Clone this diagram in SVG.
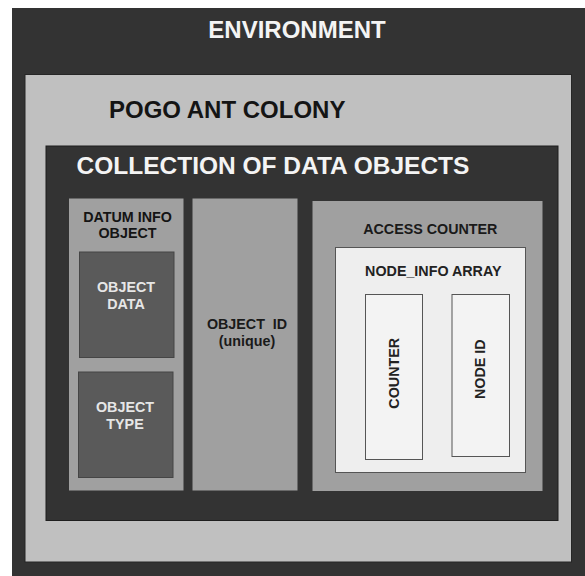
<svg xmlns="http://www.w3.org/2000/svg" width="585" height="576" viewBox="0 0 585 576">
  <style>
    text { font-family: "Liberation Sans", Arial, sans-serif; font-weight: bold; }
    .big { font-size: 24px; }
    .small { font-size: 14.3px; }
    .light { fill: #f4f4f4; }
    .dark { fill: #141414; }
    .mid { fill: #a0a0a0; }
    .slot { fill: #5a5a5a; stroke: #454545; stroke-width: 1; }
    .cell { fill: #f3f3f3; stroke: #555; stroke-width: 1; }
  </style>

  <rect x="0" y="0" width="585" height="576" fill="#ffffff"/>

  <!-- outermost container -->
  <g id="environment">
    <rect x="12" y="8" width="573" height="568" fill="#333333"/>
    <text class="big light" x="297" y="38" text-anchor="middle">ENVIRONMENT</text>
  </g>

  <g id="colony">
    <rect x="25" y="74.5" width="546.5" height="487.5" fill="#c0c0c0" stroke="#262626" stroke-width="1"/>
    <text class="big dark" x="109" y="118">POGO ANT COLONY</text>
  </g>

  <g id="collection">
    <rect x="46" y="146" width="512" height="374.5" fill="#333333" stroke="#1e1e1e" stroke-width="1"/>
    <text class="big light" x="76.5" y="174" style="font-size:24.5px">COLLECTION OF DATA OBJECTS</text>
  </g>

  <g id="datum-info">
    <rect class="mid" x="69" y="198.5" width="114.5" height="292"/>
    <text class="small dark" x="127.5" y="221.5" text-anchor="middle">DATUM INFO</text>
    <text class="small dark" x="127.5" y="237.5" text-anchor="middle">OBJECT</text>
  </g>

  <g id="object-data">
    <rect class="slot" x="79.5" y="252" width="94.5" height="105.5"/>
    <text class="small" fill="#e6e6e6" x="126" y="292" text-anchor="middle">OBJECT</text>
    <text class="small" fill="#e6e6e6" x="126" y="309" text-anchor="middle">DATA</text>
  </g>

  <g id="object-type">
    <rect class="slot" x="78.5" y="372" width="94.5" height="105.5"/>
    <text class="small" fill="#e6e6e6" x="125" y="411.5" text-anchor="middle">OBJECT</text>
    <text class="small" fill="#e6e6e6" x="125" y="428.5" text-anchor="middle">TYPE</text>
  </g>

  <g id="object-id">
    <rect class="mid" x="192.5" y="198.5" width="105" height="292"/>
    <text class="small" fill="#1a1a1a" x="247" y="328.5" text-anchor="middle" xml:space="preserve">OBJECT  ID</text>
    <text class="small" fill="#1a1a1a" x="247" y="346" text-anchor="middle">(unique)</text>
  </g>

  <g id="access-counter">
    <rect class="mid" x="312.5" y="201" width="230" height="290"/>
    <text class="small" fill="#1a1a1a" x="430.3" y="233.5" text-anchor="middle">ACCESS COUNTER</text>
  </g>

  <g id="node-info-array">
    <rect x="335.5" y="247.5" width="190" height="225" fill="#eeeeee" stroke="#555" stroke-width="1"/>
    <text class="small" fill="#222" x="433.3" y="275.5" text-anchor="middle">NODE_INFO ARRAY</text>
  </g>

  <g id="counter">
    <rect class="cell" x="365.5" y="294.5" width="57" height="165"/>
    <text class="small" fill="#222" text-anchor="middle" transform="translate(399.3,373.3) rotate(-90)">COUNTER</text>
  </g>

  <g id="node-id">
    <rect class="cell" x="452" y="294.5" width="57.5" height="162"/>
    <text class="small" fill="#222" text-anchor="middle" transform="translate(485,369.2) rotate(-90)">NODE ID</text>
  </g>

  <!-- nested containers only; no links between them -->
  <g id="connectors"></g>
</svg>
